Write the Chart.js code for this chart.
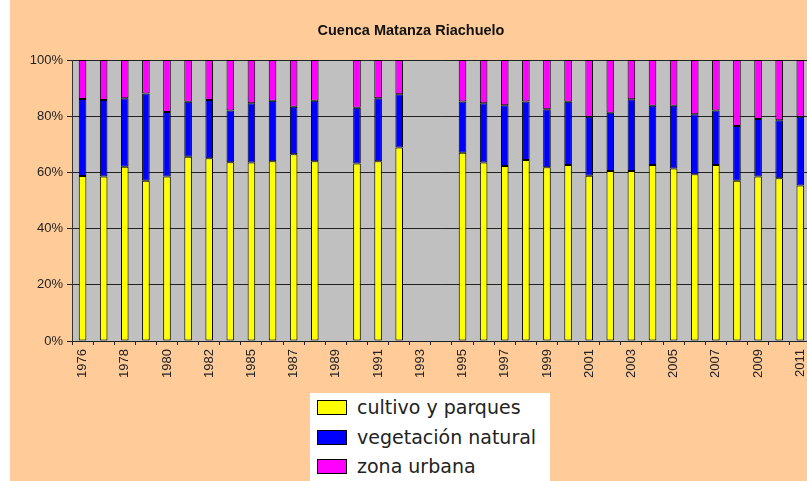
<!DOCTYPE html>
<html lang="es">
<head>
    <meta charset="UTF-8">
    <title>Cuenca Matanza Riachuelo</title>
    <style>
        html, body {
            margin: 0;
            padding: 0;
            background: #ffffff;
            overflow: hidden;
            width: 807px;
            height: 481px;
        }
        #wrap {
            position: absolute;
            left: 10px;
            top: 0;
            width: 810px;
            height: 481px;
            background: #ffcc99;
        }
        #legend {
            position: absolute;
            left: 310px;
            top: 393px;
            width: 240px;
            height: 95px;
            background: #ffffff;
            font-family: "DejaVu Sans", Verdana, sans-serif;
            font-size: 19px;
            color: #222;
        }
        #legend .item {
            position: absolute;
            left: 7px;
            height: 22px;
            line-height: 22px;
            white-space: nowrap;
        }
        #legend .box {
            display: inline-block;
            width: 28px;
            height: 13px;
            border: 1px solid #000;
            vertical-align: -1px;
            margin-right: 10px;
        }
    </style>
</head>
<body>
    <div id="wrap">
        <canvas id="chart" width="810" height="481"></canvas>
    </div>
    <div id="legend"></div>

    <script src="https://cdn.jsdelivr.net/npm/chart.js"></script>
    <script>
        // años (1989, 1993 y 1994 sin datos)
        const years = ['1976', '1977', '1978', '1979', '1980', '1981', '1982', '1984', '1985', '1986',
            '1987', '1988', '1989', '1990', '1991', '1992', '1993', '1994', '1995', '1996',
            '1997', '1998', '1999', '2000', '2001', '2002', '2003', '2004', '2005', '2006',
            '2007', '2008', '2009', '2010', '2011'];

        // porcentajes
        const cultivo = [58.7, 58.5, 62.0, 57.0, 58.5, 65.6, 65.0, 63.6, 63.5, 64.0,
            66.5, 64.0, null, 63.2, 64.0, 68.9, null, null, 67.0, 63.5,
            62.3, 64.4, 61.8, 62.6, 58.8, 60.5, 60.5, 62.6, 61.4, 59.3,
            62.6, 57.0, 58.5, 57.9, 55.3];
        const vegetacion = [27.4, 27.3, 24.4, 31.1, 23.0, 19.5, 20.8, 18.4, 21.1, 21.5,
            16.9, 21.5, null, 19.8, 22.4, 18.9, null, null, 18.2, 21.1,
            21.6, 20.8, 20.7, 22.5, 21.0, 20.7, 25.5, 21.1, 22.3, 21.4,
            19.4, 19.5, 20.5, 20.7, 24.5];
        const urbana = [13.9, 14.2, 13.6, 11.9, 18.5, 14.9, 14.2, 18.0, 15.4, 14.5,
            16.6, 14.5, null, 17.0, 13.6, 12.2, null, null, 14.8, 15.4,
            16.1, 14.8, 17.5, 14.9, 20.2, 18.8, 14.0, 16.3, 16.3, 19.3,
            18.0, 23.5, 21.0, 21.4, 20.2];

        const seriesNames = ['cultivo y parques', 'vegetación natural', 'zona urbana'];
        const seriesColors = ['#ffff00', '#0000ff', '#ff00ff'];
        const yTicks = [0, 20, 40, 60, 80, 100];

        const txtFont = { family: 'Liberation Sans, Arial, sans-serif', size: 13 };

        // fondo gris del area de trazado
        const plotBg = {
            id: 'plotBg',
            beforeDraw(chart) {
                const a = chart.chartArea;
                const c = chart.ctx;
                c.save();
                c.fillStyle = '#c0c0c0';
                c.fillRect(a.left, a.top, a.right - a.left, a.bottom - a.top);
                c.restore();
            }
        };

        const datasets = [cultivo, vegetacion, urbana].map((d, i) => ({
            label: seriesNames[i],
            data: d,
            backgroundColor: seriesColors[i],
            borderColor: '#000',
            borderWidth: 1,
            borderSkipped: false,
            categoryPercentage: 1,
            barPercentage: 0.36
        }));

        const chart = new Chart(document.getElementById('chart'), {
            type: 'bar',
            data: { labels: years, datasets: datasets },
            plugins: [plotBg],
            options: {
                responsive: false,
                animation: false,
                layout: { padding: { left: 0, right: 8, top: 0, bottom: 0 } },
                plugins: {
                    legend: { display: false },
                    tooltip: { enabled: false },
                    title: {
                        display: true,
                        text: 'Cuenca Matanza Riachuelo',
                        color: '#111',
                        font: { family: 'Liberation Sans, Arial, sans-serif', size: 14.5, weight: 'bold' },
                        padding: { top: 22, bottom: 20.6 }
                    }
                },
                scales: {
                    x: {
                        stacked: true,
                        afterFit: s => { s.height = 140; },
                        grid: {
                            offset: true,
                            drawOnChartArea: false,
                            drawTicks: true,
                            tickLength: 4,
                            color: '#222'
                        },
                        border: { color: '#222' },
                        ticks: {
                            autoSkip: false,
                            minRotation: 90,
                            maxRotation: 90,
                            padding: 4,
                            color: '#222',
                            font: txtFont,
                            callback: (v, i) => (i % 2 === 0 ? years[i] : '')
                        }
                    },
                    y: {
                        stacked: true,
                        min: 0,
                        max: 100,
                        afterFit: s => { s.width = 62; },
                        afterBuildTicks: s => { s.ticks = yTicks.map(v => ({ value: v })); },
                        grid: {
                            color: '#222',
                            tickLength: 5
                        },
                        border: { color: '#333' },
                        ticks: {
                            padding: 4,
                            color: '#222',
                            font: txtFont,
                            callback: v => v + '%'
                        }
                    }
                }
            }
        });

        // leyenda
        const legend = document.getElementById('legend');
        const rowTops = [3, 33, 62];
        chart.data.datasets.forEach((ds, i) => {
            const item = document.createElement('div');
            item.className = 'item';
            item.style.top = rowTops[i] + 'px';
            const box = document.createElement('span');
            box.className = 'box';
            box.style.background = ds.backgroundColor;
            item.appendChild(box);
            item.appendChild(document.createTextNode(ds.label));
            legend.appendChild(item);
        });
    </script>
</body>
</html>
